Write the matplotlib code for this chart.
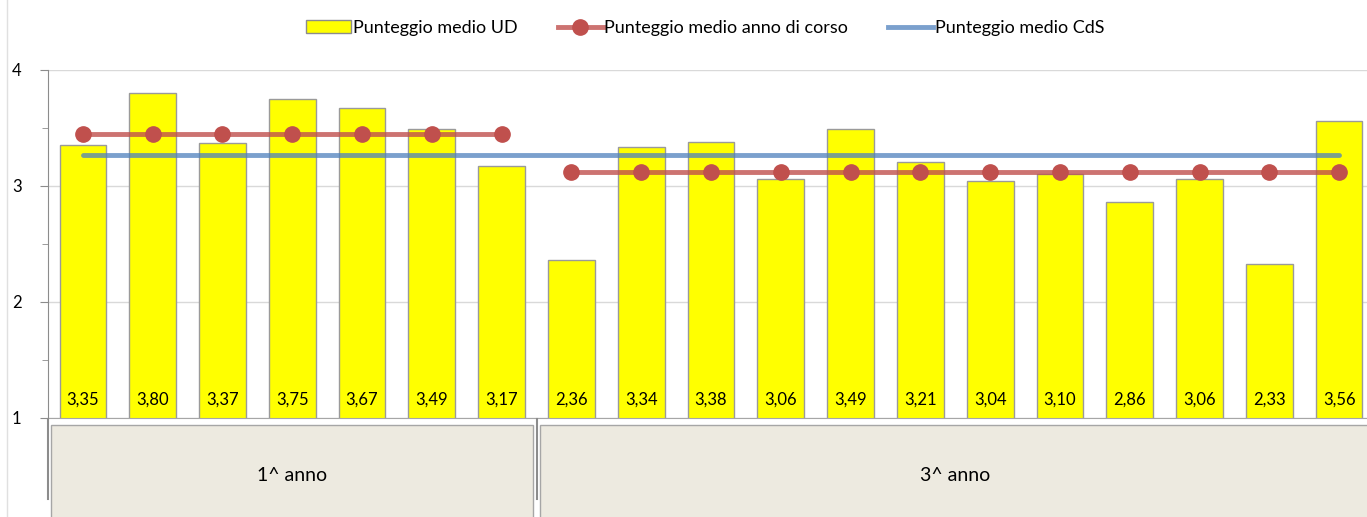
import matplotlib
matplotlib.use('Agg')
import matplotlib.pyplot as plt
from matplotlib.patches import Rectangle, Patch
from matplotlib.lines import Line2D
from matplotlib.ticker import MultipleLocator
import numpy as np

plt.rcParams['font.family'] = ['Lato', 'DejaVu Sans']

# data
scores_ud = [3.35, 3.80, 3.37, 3.75, 3.67, 3.49, 3.17, 2.36, 3.34, 3.38,
             3.06, 3.49, 3.21, 3.04, 3.10, 2.86, 3.06, 2.33, 3.56]
groups = ['1^ anno', '3^ anno']
group_sizes = [7, 12]
year_means = [3.45, 3.12]
cds_mean = 3.27

RED_LINE = (0.753, 0.314, 0.302, 0.8)
BLUE_LINE = (0.310, 0.506, 0.741, 0.75)

x = np.arange(len(scores_ud))

fig = plt.figure(figsize=(13.67, 5.17), dpi=100)
W, H = 1367, 517
left, right = 48 / W, 1374 / W
ax = fig.add_axes([left, (H - 418) / H, right - left, (418 - 70) / H])

ax.bar(x, scores_ud, width=0.67, bottom=0, color='#FFFF00',
       edgecolor='#9A9A9A', linewidth=1.0, zorder=2,
       label='Punteggio medio UD')

# mean per year of course
start = 0
for n, m in zip(group_sizes, year_means):
    xs = x[start:start + n]
    ax.plot(xs, [m] * n, color=RED_LINE, lw=3.5, zorder=3,
            solid_capstyle='round')
    ax.plot(xs, [m] * n, ls='none', marker='o', ms=11, color='#C0504D',
            zorder=4)
    start += n

ax.plot(x, [cds_mean] * len(x), color=BLUE_LINE, lw=3.5,
        zorder=3, solid_capstyle='round')

for xi, v in zip(x, scores_ud):
    ax.text(xi, 1.155, f'{v:.2f}'.replace('.', ','), ha='center',
            va='center', fontsize=12, zorder=5)

ax.set_xlim(-0.5, len(x) - 0.5)
ax.set_ylim(1, 4)
ax.yaxis.set_major_locator(MultipleLocator(1))
ax.yaxis.set_minor_locator(MultipleLocator(0.5))
ax.grid(axis='y', which='major', color='#D9D9D9', lw=1.0, zorder=0)
ax.set_axisbelow(True)
for s in ['top', 'right']:
    ax.spines[s].set_visible(False)
ax.spines['left'].set_color('#8C8C8C')
ax.spines['bottom'].set_color('#A6A6A6')
ax.tick_params(axis='y', which='major', length=6, color='#8C8C8C',
               labelsize=12, pad=13)
ax.tick_params(axis='y', which='minor', length=4, color='#8C8C8C')
ax.tick_params(axis='x', bottom=False, labelbottom=False)

# category boxes below the plot
axc = fig.add_axes([left, 0, right - left, (H - 419) / H])
axc.set_xlim(ax.get_xlim())
axc.set_ylim(0, 1)
axc.axis('off')
edges = [-0.5]
for n in group_sizes:
    edges.append(edges[-1] + n)
centers = [(a + b) / 2 for a, b in zip(edges[:-1], edges[1:])]
for i, (a, b) in enumerate(zip(edges[:-1], edges[1:])):
    axc.add_patch(Rectangle((a + 0.05, -0.2), (b - a) - 0.1, 1.14,
                            facecolor='#EDEAE0', edgecolor='#A6A6A6',
                            lw=1.0, clip_on=False))
    axc.text(centers[i], 0.42, groups[i], ha='center', va='center',
             fontsize=14)
for e in edges[:-1]:
    axc.plot([e, e], [0.18, 1.0], color='#8C8C8C', lw=1.5, clip_on=False)

# legend
handles = [
    Patch(facecolor='#FFFF00', edgecolor='#8C8C8C'),
    Line2D([], [], color=RED_LINE, lw=3.5, marker='o', ms=11,
           markerfacecolor='#C0504D', markeredgecolor='#C0504D'),
    Line2D([], [], color=BLUE_LINE, lw=3.5),
]
labels = ['Punteggio medio UD', 'Punteggio medio anno di corso',
          'Punteggio medio CdS']
fig.legend(handles, labels, loc='center', bbox_to_anchor=(0.516, 0.946),
           ncol=3, frameon=False, fontsize=13, handlelength=2.5,
           handletextpad=0.1, columnspacing=2.2, handleheight=0.7)

fig.add_artist(Line2D([7 / W, 7 / W], [0, 1], color='#E0E0E0', lw=1))

fig.savefig('out.png', dpi=100)
